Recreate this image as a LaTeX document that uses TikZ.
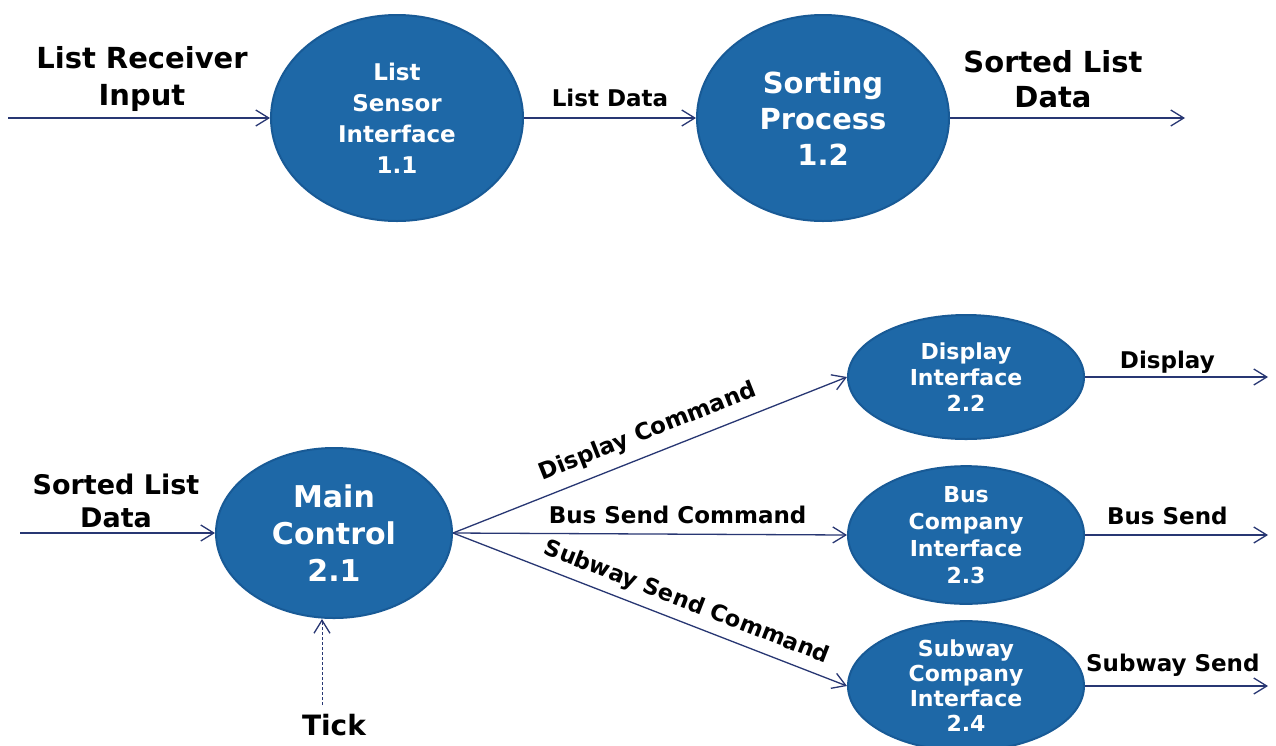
\documentclass[tikz,border=0pt]{standalone}
\usepackage{fontspec}
\setmainfont{DejaVu Sans}
\usetikzlibrary{shapes.geometric,arrows.meta}
\definecolor{procblue}{RGB}{30,104,167}
\definecolor{procedge}{RGB}{24,90,150}
\definecolor{flowc}{RGB}{40,55,115}
\newcommand\myfs[2]{\fontsize{#1}{#2}\selectfont\bfseries}
\tikzset{
  proc/.style={ellipse, fill=procblue, draw=procedge, line width=2pt, text=white, align=center, inner sep=0pt},
  flow/.style={draw=flowc, line width=1.3pt, -{Straight Barb[length=13pt,width=16pt,line width=1.3pt]}},
  tickflow/.style={flow, dash pattern=on 3pt off 2pt, line width=1pt},
  lbl/.style={align=center, text=black, inner sep=0pt},
  elbl/.style={text=black, inner sep=0pt, font=\myfs{23}{26}}
}
\begin{document}
\begin{tikzpicture}[x=1pt,y=-1pt]
\useasboundingbox[fill=white] (0,0) rectangle (1276,745);
% top row
\node[proc, minimum width=252, minimum height=206, font=\myfs{23}{31}] (p11) at (397,118) {List\\Sensor\\Interface\\1.1};
\node[proc, minimum width=252, minimum height=206, font=\myfs{29}{36}] (p12) at (823,118) {Sorting\\Process\\1.2};
\coordinate (in1) at (8,118);
\coordinate (out1) at (1185,118);
\node[lbl, font=\myfs{29}{37}] (t1) at (142,79) {List Receiver\\Input};
\node[lbl, font=\myfs{29}{35}] (t2) at (1053,79) {Sorted List\\Data};
\draw[flow] (in1) -- (p11.west);
\draw[flow] (p11.east) -- node[elbl, above=11pt] {List Data} (p12.west);
\draw[flow] (p12.east) -- (out1);
% bottom
\node[proc, minimum width=236, minimum height=170, font=\myfs{30}{37}] (p21) at (334,533) {Main\\Control\\2.1};
\node[proc, minimum width=236, minimum height=124, font=\myfs{22}{26}] (p22) at (966,377) {Display\\Interface\\2.2};
\node[proc, minimum width=236, minimum height=120, font=\myfs{22}{27}] (p23) at (966,535) {Bus\\Company\\Interface\\2.3};
\node[proc, minimum width=236, minimum height=124, font=\myfs{22}{25}] (p24) at (966,686) {Subway\\Company\\Interface\\2.4};
\coordinate (in2) at (20,533);
\coordinate (tk) at (322,705);
\coordinate (o22) at (1268,377);
\coordinate (o23) at (1268,535);
\coordinate (o24) at (1268,686);
\node[lbl, font=\myfs{27}{33}] (t3) at (116,501) {Sorted List\\Data};
\node[lbl, font=\myfs{28}{32}] (t4) at (334,725) {Tick};
\draw[flow] (in2) -- (p21.west);
\draw[tickflow] (tk) -- (p21.south -| tk);
\draw[flow] (p21.east) -- node[elbl, sloped, pos=0.515, above=10pt] {Display Command} (p22.west);
\draw[flow] (p21.east) -- node[elbl, pos=0.57, above=10pt] {Bus Send Command} (p23.west);
\draw[flow] (p21.east) -- node[elbl, sloped, pos=0.575, above=8pt, font=\myfs{22.5}{26}] {Subway Send Command} (p24.west);
\draw[flow] (p22.east) -- node[elbl, pos=0.45, above=3pt] {Display} (o22);
\draw[flow] (p23.east) -- node[elbl, pos=0.45, above=10pt] {Bus Send} (o23);
\draw[flow] (p24.east) -- node[elbl, pos=0.48, above=9pt] {Subway Send} (o24);
\end{tikzpicture}
\end{document}
